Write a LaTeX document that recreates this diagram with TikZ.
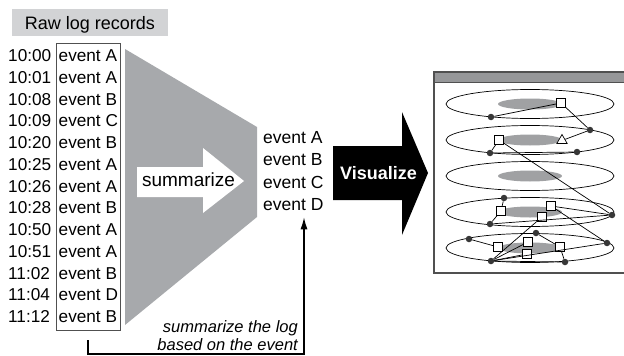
\documentclass[tikz,border=0pt]{standalone}
\usepackage{fontspec}
\setmainfont{Liberation Sans}
\usepackage{xcolor}
\usetikzlibrary{arrows.meta,shapes.geometric,calc}

\definecolor{funnelgray}{RGB}{167,169,172}
\definecolor{labelgray}{RGB}{210,211,213}
\definecolor{bargray}{RGB}{150,151,153}
\definecolor{framegray}{RGB}{80,80,80}
\definecolor{diskgray}{RGB}{160,161,163}
\definecolor{dotgray}{RGB}{55,55,55}

\begin{document}
\begin{tikzpicture}[x=1pt,y=-1pt,
    logtxt/.style={font=\fontsize{17.2}{17.2}\selectfont, anchor=base west, inner sep=0pt},
    notetxt/.style={font=\fontsize{16.5}{16.5}\selectfont\itshape, anchor=base east, inner sep=0pt},
    dot/.style={circle, fill=dotgray, inner sep=0pt, minimum size=6.5pt},
    sq/.style={draw, fill=white, line width=0.7pt, inner sep=0pt, minimum size=8.5pt},
    tri/.style={draw, fill=white, line width=0.7pt, regular polygon, regular polygon sides=3, inner sep=0pt, minimum size=12pt},
    link/.style={line width=0.7pt}]
            \useasboundingbox (0,0) rectangle (624,356);

            % Raw log records
            \node[fill=labelgray, minimum width=156pt, minimum height=27pt] (rawbox) at (90,22.7) {};
            \node[font=\fontsize{18}{18}\selectfont, anchor=base, inner sep=0pt] (rawlbl) at (90,29.3) {Raw log records};

            % Time / event rows
            \node[draw=framegray, line width=0.9pt, minimum width=64pt, minimum height=287pt, inner sep=0pt] (evbox) at (88,186.5) {};
            \foreach \t/\e [count=\i from 0] in {10:00/A,10:01/A,10:08/B,10:09/C,10:20/B,10:25/A,10:26/A,10:28/B,10:50/A,10:51/A,11:02/B,11:04/D,11:12/B} {
                \node[logtxt] (time\i) at (8,61.7+21.75*\i) {\t};
                \node[logtxt] (rec\i) at (58.5,61.7+21.75*\i) {event \e};
            }

            % Funnel and summarize arrow
            \fill[funnelgray] (125,49) -- (257,127) -- (257,217) -- (125,325) -- cycle;
            \fill[white] (137,167) -- (203,167) -- (203,148) -- (244,181) -- (203,213) -- (203,197) -- (137,197) -- cycle;
            \node[font=\fontsize{19}{19}\selectfont, anchor=base, inner sep=0pt] (sumlbl) at (188.5,186.7) {summarize};

            % Summarized events
            \foreach \e/\yb in {A/143.3,B/165.7,C/188,D/210.3}
                \node[font=\fontsize{17.5}{17.5}\selectfont, anchor=base west, inner sep=0pt] (ev\e) at (263,\yb) {event \e};

            % Feedback connector
            \coordinate (fb) at (304,354);
            \draw[line width=1.3pt, -{Latex[length=12pt,width=7pt]}] ($(evbox.south)+(0,10)$) |- (fb) -- ($(fb |- evD.base)+(0,7)$);
            \node[notetxt] (note1) at (298,332) {summarize the log};
            \node[notetxt] (note2) at (298,350) {based on the event};

            % Visualize arrow
            \fill[black] (333,146) -- (402,146) -- (402,112) -- (428,173) -- (402,235) -- (402,200) -- (333,200) -- cycle;
            \node[font=\bfseries\fontsize{18}{18}\selectfont, text=white, anchor=base, inner sep=0pt] (vislbl) at (378.5,179.3) {Visualize};

            % Window
            \fill[bargray] (434,72) rectangle (624,82);
            \draw[framegray, line width=1.3pt] (624,72) -| (434,273) -- (624,273);
            \draw[framegray, line width=0.6pt] (434,82) -- (624,82);

            % Layers
            \foreach \cy in {104,140,176,212,248} {
                \draw[line width=0.7pt] (530,\cy) ellipse [x radius=84, y radius=14.5];
                \fill[diskgray] (530,\cy) ellipse [x radius=32, y radius=5.5];
            }

            % Items on the layers
            \node[sq] (q1) at (561,103) {};
            \node[dot] (p1) at (491,117) {};
            \node[dot] (p2) at (590,130) {};
            \node[tri] (tr1) at (562,140.5) {};
            \node[sq] (q2) at (499,140) {};
            \node[dot] (p3) at (490,153) {};
            \node[dot] (p4) at (577,152) {};
            \node[dot] (p5) at (504,198) {};
            \node[sq] (q3) at (501,211) {};
            \node[dot] (p6) at (490,224) {};
            \node[sq] (q4) at (551,206) {};
            \node[sq] (q5) at (542,217) {};
            \node[dot] (p7) at (612,215) {};
            \node[dot] (p8) at (607,243) {};
            \node[dot] (p9) at (469,239) {};
            \node[sq] (q6) at (498,247) {};
            \node[dot] (p10) at (536,233) {};
            \node[sq] (q7) at (528,242) {};
            \node[sq] (q8) at (560,247) {};
            \node[sq] (q9) at (527,254) {};
            \node[dot] (p11) at (491,261) {};
            \node[dot] (p12) at (565,262) {};

            % Links
            \draw[link] (p1) -- (q1) -- (p2) -- (tr1);
            \draw[link] (q2) -- (p3) -- (p4);
            \draw[link] (q2) -- (p7);
            \draw[link] (p5) -- (q3) -- (p6) -- (p7) -- (q4) -- (p8);
            \draw[link] (p9) -- (q6);
            \draw[link] (p10) -- (q8) -- (p12);
            \draw[link] (p11) -- (q5);
            \draw[link] (p11) -- (q7);
            \draw[link] (p11) -- (q9);
            \draw[link] (p11) -- (p12);
            \draw[link] (p11) -- (p8);
        \end{tikzpicture}
\end{document}
